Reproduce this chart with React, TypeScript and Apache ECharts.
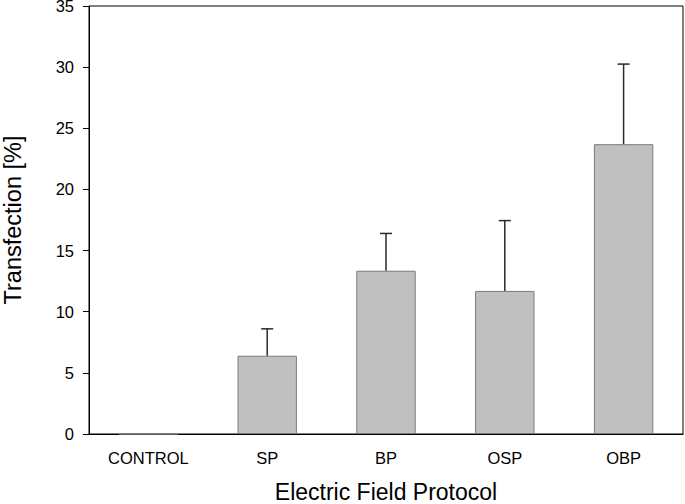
import React, { useEffect, useRef } from "react";
import * as echarts from "echarts";

const categories = ["CONTROL", "SP", "BP", "OSP", "OBP"];
const means = [0, 6.4, 13.35, 11.7, 23.7];
const upperErrors = [null, 8.6, 16.4, 17.45, 30.25];
const yTicks = [0, 5, 10, 15, 20, 25, 30, 35];

const FONT = "'Liberation Sans', Arial, sans-serif";

export default function App() {
  const ref = useRef<HTMLDivElement>(null);
  useEffect(() => {
    if (!ref.current) return;
    const chart = echarts.init(ref.current, null, { renderer: "svg" });
    const errData = categories
      .map((c, i) => (upperErrors[i] == null ? null : [i, means[i], upperErrors[i]]))
      .filter((d) => d !== null) as number[][];
    chart.setOption({
      animation: false,
      backgroundColor: "#ffffff",
      grid: {
        left: 89,
        right: 2,
        top: 6,
        bottom: 70,
        outerBoundsMode: "none",
        containLabel: false,
        show: true,
        borderColor: "#000",
        borderWidth: 1,
        backgroundColor: "transparent",
      },
      xAxis: {
        type: "category",
        data: categories,
        name: "Electric Field Protocol",
        nameLocation: "middle",
        nameGap: 46,
        nameTextStyle: { fontFamily: FONT, fontSize: 23, color: "#000" },
        axisLine: { lineStyle: { color: "#000", width: 1 } },
        axisTick: { alignWithLabel: true, length: 6, lineStyle: { color: "#000" } },
        axisLabel: { fontFamily: FONT, fontSize: 16.5, color: "#000", margin: 15 },
        splitLine: { show: false },
      },
      yAxis: {
        type: "value",
        min: yTicks[0],
        max: yTicks[yTicks.length - 1],
        interval: 5,
        name: "Transfection [%]",
        nameLocation: "middle",
        nameGap: 64,
        nameTextStyle: { fontFamily: FONT, fontSize: 23.5, color: "#000" },
        axisLine: { show: true, lineStyle: { color: "#000", width: 1 } },
        axisTick: { show: true, length: 6, lineStyle: { color: "#000" } },
        axisLabel: { fontFamily: FONT, fontSize: 16.5, color: "#000", margin: 15 },
        splitLine: { show: false },
      },
      series: [
        {
          type: "bar",
          data: means,
          barWidth: "50%",
          itemStyle: { color: "#c0c0c0", borderColor: "#7a7a7a", borderWidth: 1 },
          z: 2,
        },
        {
          type: "custom",
          data: errData,
          z: 3,
          renderItem: (params: any, api: any) => {
            const x = api.value(0);
            const lo = api.coord([x, api.value(1)]);
            const hi = api.coord([x, api.value(2)]);
            const half = 6;
            const style = { stroke: "#2a2a2a", lineWidth: 1.5 };
            return {
              type: "group",
              children: [
                { type: "line", shape: { x1: lo[0], y1: lo[1], x2: hi[0], y2: hi[1] }, style },
                { type: "line", shape: { x1: hi[0] - half, y1: hi[1], x2: hi[0] + half, y2: hi[1] }, style },
              ],
            };
          },
        },
      ],
    });
    return () => chart.dispose();
  }, []);
  return <div ref={ref} style={{ width: 685, height: 504, position: "absolute", left: 0, top: 0 }} />;
}
